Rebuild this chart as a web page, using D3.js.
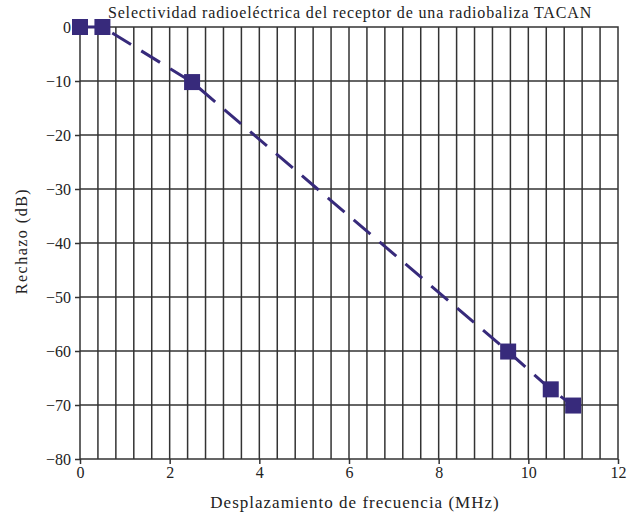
<!DOCTYPE html>
<html>
<head>
<meta charset="utf-8">
<script src="https://cdn.jsdelivr.net/npm/d3@7"></script>
<style>
  body { margin: 0; background: #fff; }
  text { font-family: "Liberation Serif", "DejaVu Serif", serif; fill: #222; }
</style>
</head>
<body>
<div id="chart"></div>
<script>
// data
const offsetMHz = [0, 0.5, 2.5, 9.55, 10.5, 11];
const rejectionDb = [0, 0, -10.2, -60.1, -67.1, -70.1];
const xTicks = [0, 2, 4, 6, 8, 10, 12];
const yTicks = [0, -10, -20, -30, -40, -50, -60, -70, -80];
const titleText = 'Selectividad radioeléctrica del receptor de una radiobaliza TACAN';
const xLabel = 'Desplazamiento de frecuencia (MHz)';
const yLabel = 'Rechazo (dB)';

const width = 627, height = 516;
const margin = { top: 27, right: 9, bottom: 57, left: 80 };
const innerW = width - margin.left - margin.right;
const innerH = height - margin.top - margin.bottom;
const color = '#372a7b';
const gridColor = '#333';

const svg = d3.select('#chart').append('svg')
  .attr('width', width)
  .attr('height', height);

const g = svg.append('g')
  .attr('transform', `translate(${margin.left},${margin.top})`);

const x = d3.scaleLinear().domain([0, 12]).range([0, innerW]);
const y = d3.scaleLinear().domain([-80, 0]).range([innerH, 0]);

const minus = (v) => (v < 0 ? '\u2212' + Math.abs(v) : String(v));

// vertical grid every 0.4 MHz
g.append('g')
  .selectAll('line')
  .data(d3.range(1, 30).map((i) => i * 0.4))
  .enter()
  .append('line')
  .attr('x1', (d) => x(d)).attr('x2', (d) => x(d))
  .attr('y1', 0).attr('y2', innerH)
  .attr('stroke', gridColor)
  .attr('stroke-width', 1.5);

// horizontal grid
g.append('g')
  .selectAll('line')
  .data(yTicks.slice(1, -1))
  .enter()
  .append('line')
  .attr('x1', 0).attr('x2', innerW)
  .attr('y1', (d) => y(d)).attr('y2', (d) => y(d))
  .attr('stroke', gridColor)
  .attr('stroke-width', 1.5);

// frame
g.append('rect')
  .attr('width', innerW).attr('height', innerH)
  .attr('fill', 'none')
  .attr('stroke', gridColor)
  .attr('stroke-width', 1.5);

// axes
const xAxis = g.append('g')
  .attr('transform', `translate(0,${innerH})`)
  .call(d3.axisBottom(x).tickValues(xTicks).tickSize(5).tickPadding(3).tickFormat(minus));
const yAxis = g.append('g')
  .call(d3.axisLeft(y).tickValues(yTicks).tickSize(5).tickPadding(4).tickFormat(minus));

[xAxis, yAxis].forEach((a) => {
  a.attr('font-family', null);
  a.select('.domain').remove();
  a.selectAll('.tick line').attr('stroke', gridColor).attr('stroke-width', 1.5);
  a.selectAll('.tick text')
    .style('font-family', '"Liberation Serif", serif')
    .style('font-size', '16px')
    .attr('fill', '#222');
});

// dashed line
const line = d3.line()
  .x((d, i) => x(offsetMHz[i]))
  .y((d) => y(d));

g.append('path')
  .datum(rejectionDb)
  .attr('d', line)
  .attr('fill', 'none')
  .attr('stroke', color)
  .attr('stroke-width', 3)
  .attr('stroke-dasharray', '22,12');

// square markers
g.selectAll('.pt')
  .data(rejectionDb)
  .enter()
  .append('rect')
  .attr('class', 'pt')
  .attr('x', (d, i) => x(offsetMHz[i]) - 8)
  .attr('y', (d) => y(d) - 8)
  .attr('width', 16)
  .attr('height', 16)
  .attr('fill', color);

// titles
svg.append('text')
  .attr('x', 350).attr('y', 18)
  .attr('text-anchor', 'middle')
  .style('font-size', '16px')
  .style('letter-spacing', '0.85px')
  .text(titleText);

svg.append('text')
  .attr('x', 355).attr('y', 508)
  .attr('text-anchor', 'middle')
  .style('font-size', '17px')
  .style('letter-spacing', '1px')
  .text(xLabel);

svg.append('text')
  .attr('transform', 'translate(27,241) rotate(-90)')
  .attr('text-anchor', 'middle')
  .style('font-size', '16px')
  .style('letter-spacing', '1.5px')
  .text(yLabel);
</script>
</body>
</html>
